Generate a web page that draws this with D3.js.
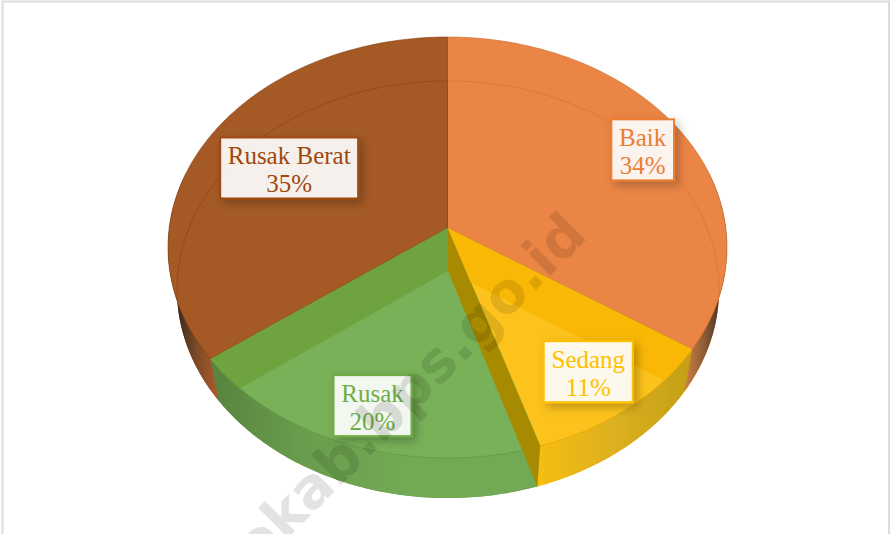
<!DOCTYPE html>
<html>
<head>
<meta charset="utf-8">
<script src="https://cdn.jsdelivr.net/npm/d3@7"></script>
<style>
  html,body{margin:0;padding:0;background:#fff;overflow:hidden;}
  svg{display:block;}
</style>
</head>
<body>
<div id="chart"></div>
<script>
var categories = ["Baik", "Sedang", "Rusak", "Rusak Berat"];
var values = [34.3, 10.8, 19.8, 35.1];
var colors = ["#ED7D31", "#FFC000", "#70AD47", "#9E480E"];
var faceColors = ["#EA8545", "#FDC31C", "#78B158", "#A55A26"];
var labelRadius = [0.825, 0.79, 0.81, 0.655];
var labelShift = [0.5, 4, 4.5, 0];

var svgWidth = 892, svgHeight = 534;
var svg = d3.select("#chart").append("svg")
  .attr("width", svgWidth).attr("height", svgHeight);

// border round the picture
svg.append("rect").attr("x", 2.5).attr("y", 1.5)
  .attr("width", svgWidth - 5.5).attr("height", svgHeight + 10)
  .attr("fill", "#fff").attr("stroke", "#dcdcdc").attr("stroke-width", 2);

// perspective of the disc, top and bottom face
function makeProjection(cx, cy, rx, ry, c) {
  return function(angle, r) {
    var u = r * Math.sin(angle), v = -r * Math.cos(angle);
    var w = 1 + c * v;
    return [cx + rx * u / w, cy + ry * v / w];
  };
}
var topFace = makeProjection(447.5, 228, 278.3, 208.7, -0.0926);
var bottomFace = makeProjection(448, 271, 270, 206.9, -0.0887);

var pie = d3.pie().sort(null).startAngle(0).endAngle(2 * Math.PI);
var slices = pie(values).map(function(d, i) {
  d.name = categories[i]; d.color = colors[i]; d.face = faceColors[i];
  d.r = labelRadius[i]; d.shift = labelShift[i];
  return d;
});

var line = d3.line();
function arcPoints(proj, a0, a1) {
  return d3.range(0, 81).map(function(k) {
    return proj(a0 + (a1 - a0) * k / 80, 1);
  });
}
function wedge(proj, d) {
  return line([proj(0, 0)].concat(arcPoints(proj, d.startAngle, d.endAngle))) + "Z";
}

var defs = svg.append("defs");
var shadow = defs.append("filter").attr("id", "labelShadow")
  .attr("x", "-20%").attr("y", "-20%").attr("width", "150%").attr("height", "150%");
shadow.append("feDropShadow").attr("dx", 4).attr("dy", 4)
  .attr("stdDeviation", 5).attr("flood-color", "#000").attr("flood-opacity", 0.28);

// one clip per top slice, for what shows through the top
slices.forEach(function(d, i) {
  defs.append("clipPath").attr("id", "topClip" + i)
    .append("path").attr("d", wedge(topFace, d));
});

// side wall shading, dark toward the silhouette
function wallGradient(id, x0, x1, stops) {
  var g = defs.append("linearGradient").attr("id", id)
    .attr("gradientUnits", "userSpaceOnUse")
    .attr("x1", x0).attr("x2", x1).attr("y1", 0).attr("y2", 0);
  stops.forEach(function(s, i) {
    g.append("stop").attr("offset", i / (stops.length - 1)).attr("stop-color", s);
  });
}
wallGradient("wall0", 722, 688, ["#3e3024", "#8a5a35", "#c47a42"]);
wallGradient("wall1", 688, 540, ["#c4a015", "#dcb020", "#f6bd12"]);
wallGradient("wall2", 218, 400, ["#5a8540", "#6a9e4e", "#72a954"]);
wallGradient("wall3", 176, 216, ["#33271c", "#7a4a28", "#a85a2a"]);

// bottom faces
svg.append("g").selectAll("path").data(slices).enter().append("path")
  .attr("d", function(d) { return wedge(bottomFace, d); })
  .attr("fill", function(d) { return d.color; });

// outer wall, front part only
var frontStart = 1.3, frontEnd = 2 * Math.PI - 1.3;
svg.append("g").selectAll("path").data(slices).enter().append("path")
  .attr("d", function(d, i) {
    var a0 = Math.max(d.startAngle, frontStart), a1 = Math.min(d.endAngle, frontEnd);
    return line(arcPoints(topFace, a0, a1).concat(arcPoints(bottomFace, a0, a1).reverse())) + "Z";
  })
  .attr("fill", function(d, i) { return "url(#wall" + i + ")"; });

// top faces
svg.append("g").selectAll("path").data(slices).enter().append("path")
  .attr("d", function(d) { return wedge(topFace, d); })
  .attr("fill", function(d) { return d.face; })
  .attr("stroke", function(d) { return d3.color(d.color).darker(0.5); })
  .attr("stroke-opacity", 0.7)
  .attr("stroke-width", 0.8);

// neighbour's bottom face seen through Sedang and Rusak
svg.append("path")
  .attr("clip-path", "url(#topClip1)")
  .attr("d", wedge(bottomFace, slices[0]))
  .attr("fill", "#F9B806");
svg.append("path")
  .attr("clip-path", "url(#topClip2)")
  .attr("d", wedge(bottomFace, slices[3]))
  .attr("fill", "#6FA33F");

// bottom rim seen through Baik and Rusak Berat
[0, 3].forEach(function(i) {
  var d = slices[i];
  svg.append("path")
    .attr("clip-path", "url(#topClip" + i + ")")
    .attr("d", line(arcPoints(bottomFace, d.startAngle, d.endAngle)))
    .attr("fill", "none")
    .attr("stroke", d3.color(d.color).darker(0.3))
    .attr("stroke-opacity", 0.6)
    .attr("stroke-width", 1);
});

// the cut face between Sedang and Rusak
var cut = slices[1].endAngle;
svg.append("path")
  .attr("d", line([topFace(0, 0), topFace(cut, 1), bottomFace(cut, 1), bottomFace(0, 0)]) + "Z")
  .attr("fill", "#A88A00");

// labels, box sized from the text
var labels = svg.append("g").selectAll("g").data(slices).enter().append("g")
  .attr("transform", function(d) {
    var p = topFace((d.startAngle + d.endAngle) / 2, d.r);
    return "translate(" + p[0] + "," + (p[1] + d.shift) + ")";
  });
var boxes = labels.append("rect")
  .attr("fill", "#fff").attr("fill-opacity", 0.9)
  .attr("stroke", function(d) { return d.color; })
  .attr("stroke-width", 2)
  .attr("filter", "url(#labelShadow)");
var label = labels.append("text")
  .attr("text-anchor", "middle")
  .attr("font-family", "'Liberation Serif', serif")
  .attr("font-size", 25)
  .attr("fill", function(d) { return d.color; });
label.append("tspan").attr("x", 0).attr("y", -4).text(function(d) { return d.name; });
label.append("tspan").attr("x", 0).attr("y", 24).text(function(d) { return Math.round(d.value) + "%"; });
boxes.each(function() {
  var w = this.parentNode.querySelector("text").getBBox().width + 15;
  d3.select(this).attr("x", -w / 2).attr("width", w).attr("y", -30.5).attr("height", 61);
});

// watermark
svg.append("text")
  .attr("transform", "translate(589,237) rotate(-45)")
  .attr("text-anchor", "end")
  .attr("font-family", "'DejaVu Sans', sans-serif")
  .attr("font-weight", "bold")
  .attr("font-size", 56)
  .attr("fill", "#000").attr("fill-opacity", 0.11)
  .text("okab.bps.go.id");
</script>
</body>
</html>
